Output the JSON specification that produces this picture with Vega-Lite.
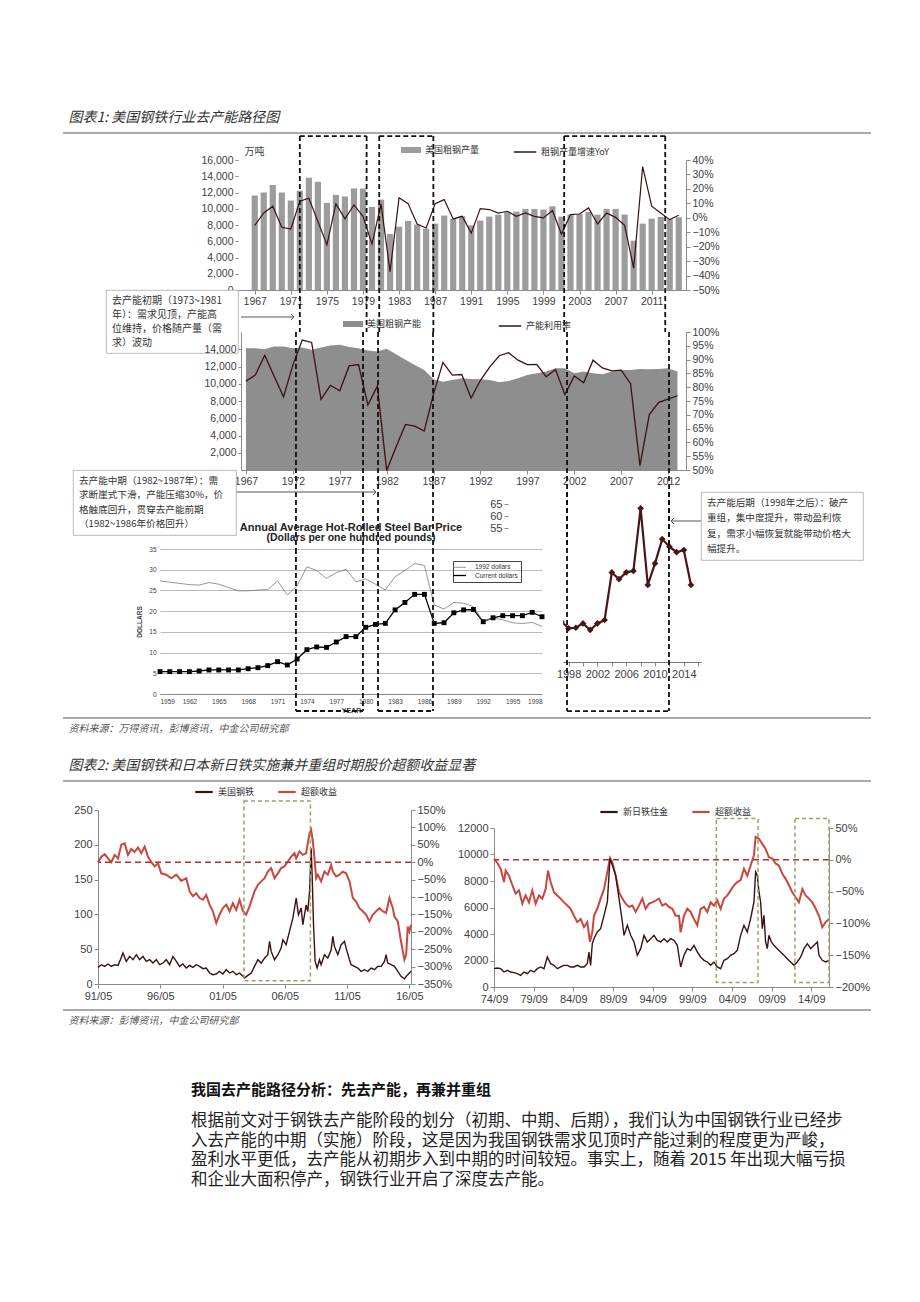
{
"$schema": "https://vega.github.io/schema/vega-lite/v6.json",
"padding": {"left": 62, "top": 0, "right": 0, "bottom": 0},
"autosize": {"type": "pad"},
"background": "white",
"bounds": "flush",
"spacing": 0,
"resolve": {"scale": {"fill": "independent", "stroke": "independent", "strokeWidth": "independent"}},
"config": {
 "view": {"stroke": null},
 "font": "Liberation Sans",
 "axis": {"labelFont": "Liberation Sans", "labelColor": "#404040", "domainColor": "#8a8a8a", "tickColor": "#8a8a8a", "grid": false, "labelFontSize": 10.5, "titleFont": "Noto Sans CJK SC", "titleFontWeight": "normal", "titleColor": "#404040", "tickSize": 3},
 "legend": {"labelFont": "Noto Sans CJK SC", "labelFontSize": 9, "labelColor": "#333"},
 "title": {"font": "Noto Sans CJK SC", "color": "#333"}
},
"datasets": {
 "prod": [
  {"year":1967,"prod":11630,"yoy":-0.052},{"year":1968,"prod":12000,"yoy":0.033},{"year":1969,"prod":12910,"yoy":0.080},{"year":1970,"prod":12000,"yoy":-0.066},{"year":1971,"prod":11010,"yoy":-0.078},{"year":1972,"prod":12210,"yoy":0.115},{"year":1973,"prod":13820,"yoy":0.135},{"year":1974,"prod":13320,"yoy":-0.025},{"year":1975,"prod":10720,"yoy":-0.187},{"year":1976,"prod":11710,"yoy":0.096},{"year":1977,"prod":11510,"yoy":-0.008},{"year":1978,"prod":12500,"yoy":0.089},{"year":1979,"prod":12500,"yoy":0.010},{"year":1980,"prod":10230,"yoy":-0.182},{"year":1981,"prod":11130,"yoy":0.096},{"year":1982,"prod":6890,"yoy":-0.373},{"year":1983,"prod":7790,"yoy":0.138},{"year":1984,"prod":8500,"yoy":0.098},{"year":1985,"prod":8040,"yoy":-0.043},{"year":1986,"prod":7550,"yoy":-0.071},{"year":1987,"prod":8170,"yoy":0.098},{"year":1988,"prod":9160,"yoy":0.126},{"year":1989,"prod":8740,"yoy":-0.008},{"year":1990,"prod":9070,"yoy":0.010},{"year":1991,"prod":7960,"yoy":-0.106},{"year":1992,"prod":8540,"yoy":0.064},{"year":1993,"prod":9030,"yoy":0.057},{"year":1994,"prod":9280,"yoy":0.033},{"year":1995,"prod":9570,"yoy":0.045},{"year":1996,"prod":9650,"yoy":0.010},{"year":1997,"prod":9980,"yoy":0.033},{"year":1998,"prod":9980,"yoy":0.010},{"year":1999,"prod":9900,"yoy":-0.001},{"year":2000,"prod":10310,"yoy":0.050},{"year":2001,"prod":9030,"yoy":-0.113},{"year":2002,"prod":9280,"yoy":0.022},{"year":2003,"prod":9360,"yoy":0.026},{"year":2004,"prod":9610,"yoy":0.068},{"year":2005,"prod":9280,"yoy":-0.043},{"year":2006,"prod":9980,"yoy":0.033},{"year":2007,"prod":9980,"yoy":0.003},{"year":2008,"prod":9280,"yoy":-0.052},{"year":2009,"prod":6060,"yoy":-0.349},{"year":2010,"prod":8170,"yoy":0.354},{"year":2011,"prod":8780,"yoy":0.080},{"year":2012,"prod":8990,"yoy":0.033},{"year":2013,"prod":8700,"yoy":-0.013},{"year":2014,"prod":8950,"yoy":0.017}
 ],
 "cap": [
  {"year":1967,"cap":14130,"util":0.822},{"year":1968,"cap":14130,"util":0.844},{"year":1969,"cap":14010,"util":0.916},{"year":1970,"cap":14330,"util":0.840},{"year":1971,"cap":14330,"util":0.765},{"year":1972,"cap":14130,"util":0.880},{"year":1973,"cap":14210,"util":0.971},{"year":1974,"cap":13940,"util":0.962},{"year":1975,"cap":14210,"util":0.756},{"year":1976,"cap":14440,"util":0.807},{"year":1977,"cap":14520,"util":0.787},{"year":1978,"cap":14250,"util":0.877},{"year":1979,"cap":14130,"util":0.882},{"year":1980,"cap":13860,"util":0.735},{"year":1981,"cap":13740,"util":0.804},{"year":1982,"cap":14050,"util":0.498},{"year":1983,"cap":13430,"util":0.583},{"year":1984,"cap":12770,"util":0.665},{"year":1985,"cap":12180,"util":0.659},{"year":1986,"cap":11600,"util":0.641},{"year":1987,"cap":10510,"util":0.777},{"year":1988,"cap":10240,"util":0.890},{"year":1989,"cap":10440,"util":0.844},{"year":1990,"cap":10630,"util":0.846},{"year":1991,"cap":10550,"util":0.761},{"year":1992,"cap":10510,"util":0.825},{"year":1993,"cap":10440,"util":0.874},{"year":1994,"cap":10170,"util":0.914},{"year":1995,"cap":10320,"util":0.925},{"year":1996,"cap":10630,"util":0.898},{"year":1997,"cap":11020,"util":0.882},{"year":1998,"cap":11220,"util":0.883},{"year":1999,"cap":11410,"util":0.838},{"year":2000,"cap":11800,"util":0.864},{"year":2001,"cap":11800,"util":0.773},{"year":2002,"cap":11220,"util":0.841},{"year":2003,"cap":11410,"util":0.816},{"year":2004,"cap":11220,"util":0.898},{"year":2005,"cap":11100,"util":0.870},{"year":2006,"cap":11410,"util":0.859},{"year":2007,"cap":11600,"util":0.862},{"year":2008,"cap":11600,"util":0.813},{"year":2009,"cap":11720,"util":0.516},{"year":2010,"cap":11680,"util":0.701},{"year":2011,"cap":11720,"util":0.745},{"year":2012,"cap":11800,"util":0.757},{"year":2013,"cap":11410,"util":0.769}
 ],
 "price": [
  {"year":1959,"series":"Current dollars","price":5.4},{"year":1960,"series":"Current dollars","price":5.4},{"year":1961,"series":"Current dollars","price":5.4},{"year":1962,"series":"Current dollars","price":5.4},{"year":1963,"series":"Current dollars","price":5.55},{"year":1964,"series":"Current dollars","price":5.8},{"year":1965,"series":"Current dollars","price":5.8},{"year":1966,"series":"Current dollars","price":5.8},{"year":1967,"series":"Current dollars","price":5.8},{"year":1968,"series":"Current dollars","price":6.1},{"year":1969,"series":"Current dollars","price":6.35},{"year":1970,"series":"Current dollars","price":6.85},{"year":1971,"series":"Current dollars","price":7.8},{"year":1972,"series":"Current dollars","price":7.0},{"year":1973,"series":"Current dollars","price":8.45},{"year":1974,"series":"Current dollars","price":10.7},{"year":1975,"series":"Current dollars","price":11.35},{"year":1976,"series":"Current dollars","price":11.25},{"year":1977,"series":"Current dollars","price":12.55},{"year":1978,"series":"Current dollars","price":13.85},{"year":1979,"series":"Current dollars","price":13.85},{"year":1980,"series":"Current dollars","price":16.1},{"year":1981,"series":"Current dollars","price":16.8},{"year":1982,"series":"Current dollars","price":17.05},{"year":1983,"series":"Current dollars","price":20.3},{"year":1984,"series":"Current dollars","price":22.1},{"year":1985,"series":"Current dollars","price":24.05},{"year":1986,"series":"Current dollars","price":24.05},{"year":1987,"series":"Current dollars","price":17.05},{"year":1988,"series":"Current dollars","price":17.2},{"year":1989,"series":"Current dollars","price":19.6},{"year":1990,"series":"Current dollars","price":20.3},{"year":1991,"series":"Current dollars","price":20.4},{"year":1992,"series":"Current dollars","price":17.45},{"year":1993,"series":"Current dollars","price":18.4},{"year":1994,"series":"Current dollars","price":18.9},{"year":1995,"series":"Current dollars","price":18.9},{"year":1996,"series":"Current dollars","price":18.9},{"year":1997,"series":"Current dollars","price":19.7},{"year":1998,"series":"Current dollars","price":18.65},
  {"year":1959,"series":"1992 dollars","price":27.3},{"year":1960,"series":"1992 dollars","price":27.0},{"year":1961,"series":"1992 dollars","price":26.7},{"year":1962,"series":"1992 dollars","price":26.4},{"year":1963,"series":"1992 dollars","price":26.3},{"year":1964,"series":"1992 dollars","price":26.9},{"year":1965,"series":"1992 dollars","price":26.5},{"year":1966,"series":"1992 dollars","price":25.7},{"year":1967,"series":"1992 dollars","price":24.9},{"year":1968,"series":"1992 dollars","price":24.9},{"year":1969,"series":"1992 dollars","price":25.1},{"year":1970,"series":"1992 dollars","price":25.2},{"year":1971,"series":"1992 dollars","price":27.3},{"year":1972,"series":"1992 dollars","price":23.9},{"year":1973,"series":"1992 dollars","price":26.1},{"year":1974,"series":"1992 dollars","price":30.7},{"year":1975,"series":"1992 dollars","price":29.8},{"year":1976,"series":"1992 dollars","price":27.9},{"year":1977,"series":"1992 dollars","price":29.3},{"year":1978,"series":"1992 dollars","price":30.1},{"year":1979,"series":"1992 dollars","price":27.1},{"year":1980,"series":"1992 dollars","price":27.8},{"year":1981,"series":"1992 dollars","price":26.5},{"year":1982,"series":"1992 dollars","price":25.1},{"year":1983,"series":"1992 dollars","price":28.3},{"year":1984,"series":"1992 dollars","price":29.8},{"year":1985,"series":"1992 dollars","price":31.5},{"year":1986,"series":"1992 dollars","price":31.0},{"year":1987,"series":"1992 dollars","price":21.5},{"year":1988,"series":"1992 dollars","price":20.5},{"year":1989,"series":"1992 dollars","price":22.1},{"year":1990,"series":"1992 dollars","price":21.9},{"year":1991,"series":"1992 dollars","price":21.1},{"year":1992,"series":"1992 dollars","price":17.45},{"year":1993,"series":"1992 dollars","price":18.3},{"year":1994,"series":"1992 dollars","price":17.9},{"year":1995,"series":"1992 dollars","price":17.2},{"year":1996,"series":"1992 dollars","price":17.0},{"year":1997,"series":"1992 dollars","price":17.3},{"year":1998,"series":"1992 dollars","price":16.3}
 ],
 "recent": [
  {"year":1997,"v":16.6},{"year":1998,"v":13.9},{"year":1999,"v":14.1},{"year":2000,"v":15.9},{"year":2001,"v":13.2},{"year":2002,"v":15.9},{"year":2003,"v":17.3},{"year":2004,"v":36.9},{"year":2005,"v":34.1},{"year":2006,"v":36.9},{"year":2007,"v":37.5},{"year":2008,"v":63.3},{"year":2009,"v":31.7},{"year":2010,"v":40.6},{"year":2011,"v":50.6},{"year":2012,"v":47.5},{"year":2013,"v":45.2},{"year":2014,"v":46.1},{"year":2015,"v":31.7}
 ],
 "usDark": [
  {"t":1991.37,"v":23.9},{"t":1991.64,"v":27.7},{"t":1991.91,"v":25.3},{"t":1992.17,"v":28.7},{"t":1992.44,"v":25.3},{"t":1992.71,"v":27.7},{"t":1992.98,"v":26.8},{"t":1993.24,"v":38.2},{"t":1993.38,"v":44.5},{"t":1993.64,"v":32.5},{"t":1993.91,"v":39.7},{"t":1994.18,"v":34.9},{"t":1994.45,"v":42.1},{"t":1994.71,"v":34.9},{"t":1994.98,"v":39.7},{"t":1995.25,"v":32.5},{"t":1995.52,"v":34.9},{"t":1995.78,"v":30.1},{"t":1996.05,"v":34.9},{"t":1996.32,"v":27.7},{"t":1996.59,"v":30.1},{"t":1996.85,"v":34.9},{"t":1997.12,"v":27.7},{"t":1997.39,"v":39.7},{"t":1997.66,"v":32.5},{"t":1997.92,"v":25.3},{"t":1998.19,"v":28.7},{"t":1998.46,"v":22.9},{"t":1998.73,"v":26.8},{"t":1998.99,"v":23.9},{"t":1999.26,"v":27.7},{"t":1999.53,"v":25.3},{"t":1999.80,"v":22.0},{"t":2000.06,"v":22.9},{"t":2000.33,"v":15.8},{"t":2000.60,"v":13.4},{"t":2000.87,"v":14.3},{"t":2001.13,"v":18.2},{"t":2001.40,"v":14.3},{"t":2001.67,"v":20.6},{"t":2001.94,"v":15.8},{"t":2002.20,"v":18.2},{"t":2002.47,"v":13.4},{"t":2002.74,"v":15.8},{"t":2003.01,"v":11.0},{"t":2003.14,"v":8.6},{"t":2003.41,"v":12.4},{"t":2003.68,"v":15.8},{"t":2003.94,"v":25.3},{"t":2004.21,"v":34.9},{"t":2004.48,"v":30.1},{"t":2004.75,"v":37.3},{"t":2005.01,"v":42.1},{"t":2005.15,"v":61.2},{"t":2005.28,"v":46.8},{"t":2005.55,"v":34.9},{"t":2005.82,"v":42.1},{"t":2006.08,"v":51.6},{"t":2006.22,"v":63.6},{"t":2006.48,"v":56.4},{"t":2006.75,"v":75.5},{"t":2007.02,"v":94.6},{"t":2007.29,"v":123.3},{"t":2007.47,"v":99.4},{"t":2007.69,"v":109.0},{"t":2007.82,"v":85.1},{"t":2008.09,"v":113.8},{"t":2008.22,"v":104.2},{"t":2008.36,"v":132.9},{"t":2008.49,"v":195.0},{"t":2008.57,"v":156.8},{"t":2008.68,"v":85.1},{"t":2008.81,"v":32.5},{"t":2008.97,"v":22.9},{"t":2009.16,"v":34.9},{"t":2009.29,"v":27.7},{"t":2009.56,"v":42.1},{"t":2009.83,"v":37.3},{"t":2010.10,"v":49.2},{"t":2010.23,"v":68.4},{"t":2010.36,"v":54.0},{"t":2010.63,"v":42.1},{"t":2010.90,"v":56.4},{"t":2011.17,"v":61.2},{"t":2011.30,"v":51.6},{"t":2011.57,"v":34.9},{"t":2011.70,"v":27.7},{"t":2011.97,"v":25.3},{"t":2012.24,"v":22.9},{"t":2012.50,"v":18.2},{"t":2012.77,"v":20.6},{"t":2013.04,"v":18.2},{"t":2013.31,"v":22.9},{"t":2013.57,"v":20.6},{"t":2013.84,"v":25.3},{"t":2014.11,"v":25.3},{"t":2014.38,"v":32.5},{"t":2014.51,"v":42.1},{"t":2014.64,"v":30.1},{"t":2014.91,"v":27.7},{"t":2015.18,"v":25.3},{"t":2015.45,"v":18.2},{"t":2015.71,"v":11.0},{"t":2015.98,"v":7.6},{"t":2016.25,"v":13.4},{"t":2016.51,"v":18.2}
 ],
 "usRed": [
  {"t":1991.37,"r":0.00},{"t":1991.64,"r":0.16},{"t":1991.91,"r":0.23},{"t":1992.17,"r":0.11},{"t":1992.44,"r":0.00},{"t":1992.71,"r":0.21},{"t":1992.98,"r":0.11},{"t":1993.24,"r":0.50},{"t":1993.51,"r":0.54},{"t":1993.78,"r":0.21},{"t":1994.05,"r":0.38},{"t":1994.31,"r":0.29},{"t":1994.58,"r":0.42},{"t":1994.85,"r":0.26},{"t":1995.12,"r":0.45},{"t":1995.38,"r":0.16},{"t":1995.65,"r":0.00},{"t":1995.92,"r":-0.12},{"t":1996.19,"r":-0.03},{"t":1996.45,"r":-0.32},{"t":1996.85,"r":-0.36},{"t":1997.26,"r":-0.46},{"t":1997.66,"r":-0.36},{"t":1998.06,"r":-0.54},{"t":1998.46,"r":-0.46},{"t":1998.73,"r":-0.84},{"t":1998.99,"r":-0.98},{"t":1999.26,"r":-0.89},{"t":1999.53,"r":-1.03},{"t":1999.80,"r":-1.08},{"t":2000.06,"r":-0.94},{"t":2000.33,"r":-1.22},{"t":2000.60,"r":-1.41},{"t":2000.87,"r":-1.75},{"t":2001.13,"r":-1.51},{"t":2001.40,"r":-1.32},{"t":2001.67,"r":-1.22},{"t":2001.94,"r":-1.41},{"t":2002.20,"r":-1.18},{"t":2002.47,"r":-1.37},{"t":2002.74,"r":-1.08},{"t":2003.01,"r":-1.41},{"t":2003.27,"r":-1.51},{"t":2003.54,"r":-1.27},{"t":2003.94,"r":-0.84},{"t":2004.21,"r":-0.65},{"t":2004.48,"r":-0.55},{"t":2004.75,"r":-0.46},{"t":2005.01,"r":-0.27},{"t":2005.28,"r":-0.17},{"t":2005.55,"r":-0.46},{"t":2005.82,"r":-0.32},{"t":2006.08,"r":-0.17},{"t":2006.35,"r":-0.12},{"t":2006.62,"r":0.02},{"t":2006.89,"r":0.16},{"t":2007.15,"r":0.26},{"t":2007.29,"r":0.11},{"t":2007.55,"r":0.31},{"t":2007.82,"r":0.21},{"t":2008.09,"r":0.26},{"t":2008.36,"r":0.83},{"t":2008.49,"r":0.93},{"t":2008.63,"r":0.59},{"t":2008.76,"r":0.11},{"t":2008.89,"r":-0.46},{"t":2009.03,"r":-0.36},{"t":2009.29,"r":-0.55},{"t":2009.56,"r":-0.27},{"t":2009.83,"r":-0.36},{"t":2010.10,"r":-0.08},{"t":2010.23,"r":-0.27},{"t":2010.50,"r":-0.41},{"t":2010.77,"r":-0.36},{"t":2011.03,"r":-0.27},{"t":2011.30,"r":-0.32},{"t":2011.57,"r":-0.55},{"t":2011.84,"r":-1.03},{"t":2012.10,"r":-1.13},{"t":2012.37,"r":-1.32},{"t":2012.64,"r":-1.41},{"t":2012.91,"r":-1.51},{"t":2013.17,"r":-1.70},{"t":2013.44,"r":-1.51},{"t":2013.71,"r":-1.41},{"t":2013.98,"r":-1.32},{"t":2014.24,"r":-1.41},{"t":2014.51,"r":-1.46},{"t":2014.78,"r":-1.03},{"t":2015.05,"r":-1.32},{"t":2015.18,"r":-1.56},{"t":2015.45,"r":-1.70},{"t":2015.71,"r":-2.28},{"t":2015.98,"r":-2.80},{"t":2016.12,"r":-2.66},{"t":2016.25,"r":-1.85},{"t":2016.38,"r":-1.99},{"t":2016.51,"r":-1.80}
 ],
 "jpDark": [
  {"t":1974.67,"v":1384},{"t":1975.09,"v":1434},{"t":1975.51,"v":1384},{"t":1975.93,"v":1132},{"t":1976.35,"v":1258},{"t":1976.77,"v":1132},{"t":1977.19,"v":1082},{"t":1977.61,"v":1006},{"t":1978.03,"v":881},{"t":1978.45,"v":1132},{"t":1978.87,"v":1006},{"t":1979.29,"v":1258},{"t":1979.71,"v":1132},{"t":1980.13,"v":1384},{"t":1980.55,"v":1510},{"t":1980.97,"v":1384},{"t":1981.39,"v":2264},{"t":1981.81,"v":1761},{"t":1982.23,"v":1635},{"t":1982.65,"v":1384},{"t":1983.07,"v":1510},{"t":1983.49,"v":1635},{"t":1983.91,"v":1635},{"t":1984.33,"v":1510},{"t":1984.75,"v":1510},{"t":1985.17,"v":1635},{"t":1985.59,"v":1510},{"t":1986.01,"v":1510},{"t":1986.43,"v":1761},{"t":1986.64,"v":2642},{"t":1986.85,"v":1635},{"t":1987.06,"v":3271},{"t":1987.27,"v":3648},{"t":1987.69,"v":4151},{"t":1988.11,"v":4403},{"t":1988.54,"v":5409},{"t":1988.96,"v":6416},{"t":1989.29,"v":9687},{"t":1989.59,"v":9183},{"t":1990.01,"v":8429},{"t":1990.43,"v":6667},{"t":1990.85,"v":4906},{"t":1991.06,"v":3900},{"t":1991.48,"v":4655},{"t":1991.90,"v":3900},{"t":1992.32,"v":3397},{"t":1992.74,"v":2390},{"t":1993.16,"v":2893},{"t":1993.58,"v":3900},{"t":1994.00,"v":3397},{"t":1994.42,"v":3648},{"t":1994.84,"v":3900},{"t":1995.26,"v":3522},{"t":1995.68,"v":3397},{"t":1996.10,"v":3648},{"t":1996.52,"v":3397},{"t":1996.94,"v":3648},{"t":1997.36,"v":3522},{"t":1997.78,"v":3145},{"t":1998.20,"v":1510},{"t":1998.62,"v":2390},{"t":1999.04,"v":2893},{"t":1999.46,"v":2768},{"t":1999.88,"v":3145},{"t":2000.30,"v":2642},{"t":2000.72,"v":2264},{"t":2001.14,"v":2013},{"t":2001.56,"v":1887},{"t":2001.98,"v":1635},{"t":2002.40,"v":1887},{"t":2002.82,"v":1510},{"t":2003.24,"v":1384},{"t":2003.66,"v":2013},{"t":2004.08,"v":2139},{"t":2004.50,"v":2390},{"t":2004.92,"v":2516},{"t":2005.34,"v":2768},{"t":2005.76,"v":3900},{"t":2006.18,"v":4655},{"t":2006.60,"v":4151},{"t":2007.02,"v":5158},{"t":2007.44,"v":6416},{"t":2007.65,"v":8680},{"t":2007.86,"v":8429},{"t":2008.07,"v":7171},{"t":2008.28,"v":6416},{"t":2008.49,"v":4403},{"t":2008.70,"v":5409},{"t":2008.91,"v":3397},{"t":2009.12,"v":2893},{"t":2009.33,"v":3900},{"t":2009.63,"v":3397},{"t":2009.96,"v":3145},{"t":2010.38,"v":2893},{"t":2010.80,"v":2642},{"t":2011.22,"v":2390},{"t":2011.64,"v":2139},{"t":2012.06,"v":1887},{"t":2012.48,"v":1635},{"t":2012.90,"v":1887},{"t":2013.33,"v":2264},{"t":2013.75,"v":2893},{"t":2014.17,"v":3271},{"t":2014.59,"v":2893},{"t":2015.01,"v":3145},{"t":2015.43,"v":3397},{"t":2015.64,"v":2390},{"t":2016.06,"v":2013},{"t":2016.48,"v":1887},{"t":2016.90,"v":2013}
 ],
 "jpRed": [
  {"t":1974.67,"r":0.02},{"t":1975.09,"r":-0.05},{"t":1975.51,"r":-0.14},{"t":1975.93,"r":-0.35},{"t":1976.14,"r":-0.17},{"t":1976.56,"r":-0.25},{"t":1976.98,"r":-0.40},{"t":1977.40,"r":-0.53},{"t":1977.82,"r":-0.48},{"t":1978.24,"r":-0.69},{"t":1978.66,"r":-0.56},{"t":1979.08,"r":-0.67},{"t":1979.50,"r":-0.48},{"t":1979.92,"r":-0.69},{"t":1980.34,"r":-0.56},{"t":1980.76,"r":-0.61},{"t":1981.18,"r":-0.46},{"t":1981.48,"r":-0.17},{"t":1981.81,"r":-0.35},{"t":1982.23,"r":-0.51},{"t":1982.65,"r":-0.56},{"t":1983.07,"r":-0.61},{"t":1983.49,"r":-0.67},{"t":1983.91,"r":-0.72},{"t":1984.33,"r":-0.77},{"t":1984.75,"r":-0.88},{"t":1985.17,"r":-0.98},{"t":1985.59,"r":-0.93},{"t":1986.01,"r":-1.06},{"t":1986.43,"r":-0.98},{"t":1986.77,"r":-1.29},{"t":1987.06,"r":-1.14},{"t":1987.27,"r":-0.88},{"t":1987.69,"r":-0.77},{"t":1988.11,"r":-0.61},{"t":1988.54,"r":-0.46},{"t":1988.96,"r":-0.19},{"t":1989.29,"r":0.03},{"t":1989.59,"r":-0.04},{"t":1990.01,"r":-0.25},{"t":1990.43,"r":-0.51},{"t":1990.85,"r":-0.61},{"t":1991.27,"r":-0.69},{"t":1991.69,"r":-0.74},{"t":1992.11,"r":-0.72},{"t":1992.53,"r":-0.82},{"t":1992.95,"r":-0.72},{"t":1993.37,"r":-0.61},{"t":1993.79,"r":-0.77},{"t":1994.21,"r":-0.69},{"t":1994.63,"r":-0.67},{"t":1995.05,"r":-0.64},{"t":1995.47,"r":-0.61},{"t":1995.89,"r":-0.72},{"t":1996.31,"r":-0.69},{"t":1996.73,"r":-0.74},{"t":1997.15,"r":-0.77},{"t":1997.57,"r":-0.88},{"t":1997.99,"r":-0.88},{"t":1998.20,"r":-1.14},{"t":1998.62,"r":-0.88},{"t":1999.04,"r":-0.77},{"t":1999.46,"r":-0.82},{"t":1999.88,"r":-0.93},{"t":2000.30,"r":-1.03},{"t":2000.72,"r":-0.77},{"t":2001.14,"r":-0.74},{"t":2001.56,"r":-0.82},{"t":2001.98,"r":-0.67},{"t":2002.40,"r":-0.72},{"t":2002.82,"r":-0.64},{"t":2003.24,"r":-0.77},{"t":2003.66,"r":-0.61},{"t":2004.08,"r":-0.56},{"t":2004.50,"r":-0.48},{"t":2004.92,"r":-0.40},{"t":2005.34,"r":-0.35},{"t":2005.76,"r":-0.32},{"t":2006.18,"r":-0.14},{"t":2006.60,"r":-0.25},{"t":2007.02,"r":-0.09},{"t":2007.44,"r":0.07},{"t":2007.65,"r":0.36},{"t":2008.07,"r":0.33},{"t":2008.49,"r":0.25},{"t":2008.91,"r":0.17},{"t":2009.33,"r":0.04},{"t":2009.75,"r":0.02},{"t":2010.17,"r":-0.06},{"t":2010.59,"r":-0.09},{"t":2011.01,"r":-0.22},{"t":2011.43,"r":-0.30},{"t":2011.85,"r":-0.40},{"t":2012.27,"r":-0.51},{"t":2012.69,"r":-0.59},{"t":2013.11,"r":-0.67},{"t":2013.54,"r":-0.46},{"t":2013.96,"r":-0.56},{"t":2014.38,"r":-0.61},{"t":2014.80,"r":-0.67},{"t":2015.22,"r":-0.77},{"t":2015.64,"r":-0.88},{"t":2016.06,"r":-1.06},{"t":2016.48,"r":-0.98},{"t":2016.90,"r":-0.93}
 ]
},
"vconcat": [
 {"width":808,"height":128,"data":{"values":[]},"mark":"point"},
 {"width": 808, "height": 5, "data": {"values": [{}]},
  "mark": {"type": "rule", "color": "#555", "strokeWidth": 1.2},
  "encoding": {"y": {"value": "height"}},
  "title": {"text": "图表1: 美国钢铁行业去产能路径图", "anchor": "start", "fontSize": 14, "fontStyle": "italic", "fontWeight": "normal", "offset": 3, "dx": 6, "color": "#333"}},
 {"width":808,"height":27,"data":{"values":[]},"mark":"point"},
 {"hconcat": [
   {"width":175,"height":1,"data":{"values":[]},"mark":"point"},
   {"width": 448, "height": 130,
    "layer": [
     {"data": {"name": "prod"}, "mark": {"type": "bar", "size": 6.2},
      "encoding": {
       "x": {"field": "year", "type": "quantitative", "scale": {"domain": [1965.7, 2014.25], "nice": false, "zero": false}, "axis": {"values": [1967,1971,1975,1979,1983,1987,1991,1995,1999,2003,2007,2011], "tickCount": 100, "format": "d", "title": null, "tickSize": 4, "labelFlush": false, "labelOverlap": false}},
       "y": {"field": "prod", "type": "quantitative", "scale": {"domain": [0, 16000], "nice": false}, "axis": {"values": [0,2000,4000,6000,8000,10000,12000,14000,16000], "tickCount": 100, "format": ",d", "title": "万吨", "titleAngle": 0, "titleX": 16, "titleY": -4, "titleAlign": "center", "titleBaseline": "bottom", "titleFontSize": 10, "domain": false}},
       "fill": {"datum": "美国粗钢产量", "type": "nominal", "scale": {"range": ["#9c9c9c"]}, "legend": {"title": null, "orient": "none", "legendX": 163, "legendY": -20, "symbolType": "M-1,-0.3H1V0.3H-1Z", "symbolSize": 400, "symbolStrokeWidth": 0}}
      }},
     {"data": {"name": "prod"}, "mark": {"type": "line", "strokeWidth": 1.2},
      "encoding": {
       "x": {"field": "year", "type": "quantitative", "scale": {"domain": [1965.7, 2014.25], "nice": false, "zero": false}},
       "y": {"field": "yoy", "type": "quantitative", "scale": {"domain": [-0.5, 0.4], "nice": false, "zero": false}, "axis": {"orient": "right", "values": [-0.5,-0.4,-0.3,-0.2,-0.1,0,0.1,0.2,0.3,0.4], "tickCount": 100, "format": ".0%", "title": null, "tickSize": 4}},
       "stroke": {"datum": "粗钢产量增速YoY", "type": "nominal", "scale": {"range": ["#3a1212"]}, "legend": {"title": null, "orient": "none", "legendX": 275, "legendY": -20, "symbolType": "stroke", "symbolSize": 500, "symbolStrokeWidth": 1.5}}
      }},
     {"data": {"values": [{"edge": 1972.0}, {"edge": 1979.4}, {"edge": 1980.8}, {"edge": 1986.8}, {"edge": 2001.3}, {"edge": 2012.5}]},
      "mark": {"type": "rule", "color": "#111", "strokeWidth": 1.8, "strokeDash": [5, 3]},
      "encoding": {
       "x": {"field": "edge", "type": "quantitative", "scale": {"domain": [1965.7, 2014.25], "nice": false, "zero": false}},
       "y": {"datum": 18950, "type": "quantitative", "scale": {"domain": [0, 16000], "nice": false}, "axis": null},
       "y2": {"datum": -5170}
      }},
     {"data": {"values": [{"start": 1972.0, "end": 1979.4}, {"start": 1980.8, "end": 1986.8}, {"start": 2001.3, "end": 2012.5}]},
      "mark": {"type": "rule", "color": "#111", "strokeWidth": 1.8, "strokeDash": [5, 3]},
      "encoding": {
       "x": {"field": "start", "type": "quantitative", "scale": {"domain": [1965.7, 2014.25], "nice": false, "zero": false}},
       "x2": {"field": "end"},
       "y": {"datum": 18950, "type": "quantitative", "scale": {"domain": [0, 16000], "nice": false}, "axis": null}
      }}
    ],
    "resolve": {"scale": {"y": "independent"}}}
  ], "spacing": 0, "bounds": "flush", "resolve": {"scale": {"fill": "independent", "stroke": "independent"}}},
 {"width":808,"height":130,"data":{"values":[]},"mark":"point"},
 {"hconcat": [
   {"width":43,"height":1,"data":{"values":[]},"mark":"point"},
   {"width": 132, "height": 63, "view": {"stroke": "#a8a8a8", "strokeWidth": 0.8, "fill": "white"},
    "data": {"values": [{"i": 1, "t": "去产能初期（1973~1981"}, {"i": 2, "t": "年）：需求见顶，产能高"}, {"i": 3, "t": "位维持，价格随产量（需"}, {"i": 4, "t": "求）波动"}]},
    "mark": {"type": "text", "align": "left", "baseline": "middle", "font": "Noto Sans CJK SC", "fontSize": 10, "color": "#333", "dx": 6},
    "encoding": {"x": {"datum": 0, "type": "quantitative", "scale": {"domain": [0, 1]}, "axis": null}, "y": {"field": "i", "type": "ordinal", "axis": null, "scale": {"padding": 0.75}}, "text": {"field": "t"}}}
  ], "spacing": 0, "bounds": "flush"},
 {"width":808,"height":42,"data":{"values":[]},"mark":"point"},
 {"hconcat": [
   {"width":178,"height":1,"data":{"values":[]},"mark":"point"},
   {"width": 445, "height": 138,
    "layer": [
     {"data": {"name": "cap"}, "mark": {"type": "area"},
      "encoding": {
       "x": {"field": "year", "type": "quantitative", "scale": {"domain": [1966.47, 2013.91], "nice": false, "zero": false}, "axis": {"values": [1967,1972,1977,1982,1987,1992,1997,2002,2007,2012], "tickCount": 100, "format": "d", "title": null, "tickSize": 4, "labelFlush": false, "labelOverlap": false}},
       "y": {"field": "cap", "type": "quantitative", "scale": {"domain": [0, 16000], "nice": false}, "axis": {"values": [2000,4000,6000,8000,10000,12000,14000], "tickCount": 100, "format": ",d", "title": null}},
       "fill": {"datum": "美国粗钢产能", "type": "nominal", "scale": {"range": ["#8e8e8e"]}, "legend": {"title": null, "orient": "none", "legendX": 102, "legendY": -18, "symbolType": "M-1,-0.3H1V0.3H-1Z", "symbolSize": 400, "symbolStrokeWidth": 0}}
      }},
     {"data": {"name": "cap"}, "mark": {"type": "line", "strokeWidth": 1.3},
      "encoding": {
       "x": {"field": "year", "type": "quantitative", "scale": {"domain": [1966.47, 2013.91], "nice": false, "zero": false}},
       "y": {"field": "util", "type": "quantitative", "scale": {"domain": [0.5, 1.0], "nice": false, "zero": false}, "axis": {"orient": "right", "values": [0.5,0.55,0.6,0.65,0.7,0.75,0.8,0.85,0.9,0.95,1.0], "tickCount": 100, "format": ".0%", "title": null, "tickSize": 4}},
       "stroke": {"datum": "产能利用率", "type": "nominal", "scale": {"range": ["#3a1212"]}, "legend": {"title": null, "orient": "none", "legendX": 257, "legendY": -18, "symbolType": "stroke", "symbolSize": 500, "symbolStrokeWidth": 1.5}}
      }},
     {"data": {"values": [{"edge": 1972.33}, {"edge": 1979.48}, {"edge": 1981.08}, {"edge": 1986.94}, {"edge": 2001.23}, {"edge": 2012.10}]},
      "mark": {"type": "rule", "color": "#111", "strokeWidth": 1.8, "strokeDash": [5, 3]},
      "encoding": {
       "x": {"field": "edge", "type": "quantitative", "scale": {"domain": [1966.47, 2013.91], "nice": false, "zero": false}},
       "y": {"datum": 16000, "type": "quantitative", "scale": {"domain": [0, 16000], "nice": false}, "axis": null},
       "y2": {"datum": -9160}
      }},
     {"data": {"values": [{"from": 1966.47, "to": 1972.12, "level": 17740}, {"from": 1965.94, "to": 1980.86, "level": -2550}]},
      "mark": {"type": "rule", "color": "#555", "strokeWidth": 1},
      "encoding": {
       "x": {"field": "from", "type": "quantitative", "scale": {"domain": [1966.47, 2013.91], "nice": false, "zero": false}},
       "x2": {"field": "to"},
       "y": {"field": "level", "type": "quantitative", "scale": {"domain": [0, 16000], "nice": false}, "axis": null}
      }},
     {"data": {"values": [{"to": 1972.12, "level": 17740}, {"to": 1980.86, "level": -2550}]},
      "mark": {"type": "point", "shape": "M-1,-1L0,0L-1,1", "filled": false, "stroke": "#555", "strokeWidth": 1, "size": 40, "opacity": 1},
      "encoding": {
       "x": {"field": "to", "type": "quantitative", "scale": {"domain": [1966.47, 2013.91], "nice": false, "zero": false}},
       "y": {"field": "level", "type": "quantitative", "scale": {"domain": [0, 16000], "nice": false}, "axis": null}
      }}
    ],
    "resolve": {"scale": {"y": "independent"}}}
  ], "spacing": 0, "bounds": "flush", "resolve": {"scale": {"fill": "independent", "stroke": "independent"}}},
 {"width":808,"height":138,"data":{"values":[]},"mark":"point"},
 {"hconcat": [
   {"width":10,"height":1,"data":{"values":[]},"mark":"point"},
   {"width": 163, "height": 65, "view": {"stroke": "#a8a8a8", "strokeWidth": 0.8, "fill": "white"},
    "data": {"values": [{"i": 1, "t": "去产能中期（1982~1987年）：需"}, {"i": 2, "t": "求断崖式下滑，产能压缩30%，价"}, {"i": 3, "t": "格触底回升，贯穿去产能前期"}, {"i": 4, "t": "（1982~1986年价格回升）"}]},
    "mark": {"type": "text", "align": "left", "baseline": "middle", "font": "Noto Sans CJK SC", "fontSize": 9.6, "color": "#333", "dx": 6},
    "encoding": {"x": {"datum": 0, "type": "quantitative", "scale": {"domain": [0, 1]}, "axis": null}, "y": {"field": "i", "type": "ordinal", "axis": null, "scale": {"padding": 0.75}}, "text": {"field": "t"}}}
  ], "spacing": 0, "bounds": "flush"},
 {"width":808,"height":22,"data":{"values":[]},"mark":"point"},
 {"hconcat": [
   {"width":500,"height":1,"data":{"values":[]},"mark":"point"},
   {"width": 138, "height": 170,
    "layer": [
     {"data": {"name": "recent"},
      "mark": {"type": "line", "color": "#4a1515", "strokeWidth": 2.2, "clip": true, "point": {"shape": "diamond", "filled": true, "size": 45, "color": "#4a1515"}},
      "encoding": {
       "x": {"field": "year", "type": "quantitative", "scale": {"domain": [1997.22, 2016.39], "nice": false, "zero": false}, "axis": {"values": [1998,2000,2002,2004,2006,2008,2010,2012,2014,2016], "tickCount": 100, "format": "d", "labelExpr": "datum.value % 4 == 2 ? datum.label : ''", "labelOverlap": false, "title": null, "labelFontSize": 11, "tickSize": 4, "domainColor": "#777", "labelFlush": false}},
       "y": {"field": "v", "type": "quantitative", "scale": {"domain": [0, 70], "nice": false}, "axis": {"values": [55, 60, 65], "tickCount": 100, "format": "d", "offset": 55, "domain": false, "title": null, "labelFontSize": 11, "tickSize": 4}}
      }},
     {"data": {"values": [{"edge": 1997.78}, {"edge": 2011.94}]},
      "mark": {"type": "rule", "color": "#111", "strokeWidth": 1.8, "strokeDash": [5, 3]},
      "encoding": {
       "x": {"field": "edge", "type": "quantitative", "scale": {"domain": [1997.22, 2016.39], "nice": false, "zero": false}},
       "y": {"datum": 70, "type": "quantitative", "scale": {"domain": [0, 70], "nice": false}},
       "y2": {"datum": -20.2}
      }},
     {"data": {"values": [{"start": 1997.78, "end": 2011.94}]},
      "mark": {"type": "rule", "color": "#111", "strokeWidth": 1.8, "strokeDash": [5, 3]},
      "encoding": {
       "x": {"field": "start", "type": "quantitative", "scale": {"domain": [1997.22, 2016.39], "nice": false, "zero": false}},
       "x2": {"field": "end"},
       "y": {"datum": -20.2, "type": "quantitative", "scale": {"domain": [0, 70], "nice": false}}
      }},
     {"data": {"values": [{"from": 2016.39, "to": 2012.22}]},
      "mark": {"type": "rule", "color": "#555", "strokeWidth": 1},
      "encoding": {
       "x": {"field": "from", "type": "quantitative", "scale": {"domain": [1997.22, 2016.39], "nice": false, "zero": false}},
       "x2": {"field": "to"},
       "y": {"datum": 58.06, "type": "quantitative", "scale": {"domain": [0, 70], "nice": false}}
      }},
     {"data": {"values": [{"to": 2012.22}]},
      "mark": {"type": "point", "shape": "M1,-1L0,0L1,1", "filled": false, "stroke": "#555", "strokeWidth": 1, "size": 40, "opacity": 1},
      "encoding": {
       "x": {"field": "to", "type": "quantitative", "scale": {"domain": [1997.22, 2016.39], "nice": false, "zero": false}},
       "y": {"datum": 58.06, "type": "quantitative", "scale": {"domain": [0, 70], "nice": false}}
      }}
    ]},
   {"width": 162, "height": 68, "view": {"stroke": "#a8a8a8", "strokeWidth": 0.8, "fill": "white"},
    "data": {"values": [{"i": 1, "t": "去产能后期（1998年之后）：破产"}, {"i": 2, "t": "重组，集中度提升，带动盈利恢"}, {"i": 3, "t": "复，需求小幅恢复就能带动价格大"}, {"i": 4, "t": "幅提升。"}]},
    "mark": {"type": "text", "align": "left", "baseline": "middle", "font": "Noto Sans CJK SC", "fontSize": 9.6, "color": "#333", "dx": 6},
    "encoding": {"x": {"datum": 0, "type": "quantitative", "scale": {"domain": [0, 1]}, "axis": null}, "y": {"field": "i", "type": "ordinal", "axis": null, "scale": {"padding": 0.75}}, "text": {"field": "t"}}}
  ], "spacing": 0, "bounds": "flush"},
 {"width":808,"height":57,"data":{"values":[]},"mark":"point"},
 {"hconcat": [
   {"width":97,"height":1,"data":{"values":[]},"mark":"point"},
   {"width": 382, "height": 145,
    "title": {"text": "Annual Average Hot-Rolled Steel Bar Price", "subtitle": "(Dollars per one hundred pounds)", "font": "Liberation Sans", "subtitleFont": "Liberation Sans", "fontSize": 11, "subtitleFontSize": 10.5, "fontWeight": "bold", "subtitleFontWeight": "bold", "color": "#222", "subtitleColor": "#222", "anchor": "middle", "offset": 3, "subtitlePadding": 0},
    "layer": [
     {"data": {"name": "price"}, "mark": {"type": "line"},
      "encoding": {
       "x": {"field": "year", "type": "quantitative", "scale": {"domain": [1959, 1998], "nice": false, "zero": false}, "axis": {"values": [1959,1962,1965,1968,1971,1974,1977,1980,1983,1986,1989,1992,1995,1998], "tickCount": 100, "format": "d", "labelOverlap": false, "title": "YEAR", "titleFont": "Liberation Sans", "titleFontSize": 7, "titleFontWeight": "bold", "titlePadding": 2, "labelFontSize": 6.5, "ticks": false, "labelPadding": 4, "domainColor": "#888"}},
       "y": {"field": "price", "type": "quantitative", "scale": {"domain": [0, 35], "nice": false}, "axis": {"values": [0,5,10,15,20,25,30,35], "tickCount": 100, "format": "d", "labelOverlap": false, "grid": true, "gridColor": "#a8a8a8", "gridWidth": 0.8, "domain": false, "ticks": false, "labelFontSize": 6.5, "labelPadding": 4, "title": "DOLLARS", "titleFont": "Liberation Sans", "titleFontSize": 6.5, "titleFontWeight": "bold", "titlePadding": 6}},
       "stroke": {"field": "series", "type": "nominal", "scale": {"domain": ["1992 dollars", "Current dollars"], "range": ["#7a7a7a", "#000000"]}, "legend": {"title": null, "orient": "none", "legendX": 293, "legendY": 12, "direction": "vertical", "strokeColor": "#444", "padding": 3, "labelFont": "Liberation Sans", "labelFontSize": 6.5, "labelOffset": 12, "symbolType": "M-2.6,0H2.6", "symbolSize": 25, "symbolStrokeWidth": 1, "rowPadding": 1}},
       "strokeWidth": {"field": "series", "type": "nominal", "scale": {"domain": ["1992 dollars", "Current dollars"], "range": [0.8, 1.3]}, "legend": null}
      }},
     {"data": {"name": "price"}, "transform": [{"filter": "datum.series == 'Current dollars'"}],
      "mark": {"type": "square", "size": 24, "color": "#000", "opacity": 1},
      "encoding": {
       "x": {"field": "year", "type": "quantitative", "scale": {"domain": [1959, 1998], "nice": false, "zero": false}},
       "y": {"field": "price", "type": "quantitative", "scale": {"domain": [0, 35], "nice": false}}
      }},
     {"data": {"values": [{"edge": 1972.88}, {"edge": 1979.72}, {"edge": 1981.26}, {"edge": 1986.87}]},
      "mark": {"type": "rule", "color": "#111", "strokeWidth": 1.8, "strokeDash": [5, 3]},
      "encoding": {
       "x": {"field": "edge", "type": "quantitative", "scale": {"domain": [1959, 1998], "nice": false, "zero": false}},
       "y": {"datum": 35, "type": "quantitative", "scale": {"domain": [0, 35], "nice": false}},
       "y2": {"datum": -4.1}
      }},
     {"data": {"values": [{"start": 1972.88, "end": 1979.72}, {"start": 1981.26, "end": 1986.87}]},
      "mark": {"type": "rule", "color": "#111", "strokeWidth": 1.8, "strokeDash": [5, 3]},
      "encoding": {
       "x": {"field": "start", "type": "quantitative", "scale": {"domain": [1959, 1998], "nice": false, "zero": false}},
       "x2": {"field": "end"},
       "y": {"datum": -4.1, "type": "quantitative", "scale": {"domain": [0, 35], "nice": false}}
      }}
    ]}
  ], "spacing": 0, "bounds": "flush", "resolve": {"scale": {"stroke": "independent", "strokeWidth": "independent"}}},
 {"width":808,"height":169,"data":{"values":[]},"mark":"point"},
 {"width": 808, "height": 4, "data": {"values": [{}]},
  "mark": {"type": "rule", "color": "#555", "strokeWidth": 1.2},
  "encoding": {"y": {"value": 0}},
  "title": {"text": "资料来源：万得资讯，彭博资讯，中金公司研究部", "orient": "bottom", "anchor": "start", "fontSize": 10, "fontStyle": "italic", "fontWeight": "normal", "color": "#555", "offset": 2, "dx": 6}},
 {"width":808,"height":54,"data":{"values":[]},"mark":"point"},
 {"width": 808, "height": 5, "data": {"values": [{}]},
  "mark": {"type": "rule", "color": "#555", "strokeWidth": 1.2},
  "encoding": {"y": {"value": "height"}},
  "title": {"text": "图表2: 美国钢铁和日本新日铁实施兼并重组时期股价超额收益显著", "anchor": "start", "fontSize": 14, "fontStyle": "italic", "fontWeight": "normal", "offset": 3, "dx": 6, "color": "#333"}},
 {"width":808,"height":29,"data":{"values":[]},"mark":"point"},
 {"hconcat": [
   {"width":35,"height":1,"data":{"values":[]},"mark":"point"},
   {"width": 313, "height": 174,
    "layer": [
     {"data": {"name": "usRed"}, "mark": {"type": "line", "strokeWidth": 2},
      "encoding": {
       "x": {"field": "t", "type": "quantitative", "scale": {"domain": [1991.37, 2016.51], "nice": false, "zero": false}, "axis": {"values": [1991.37, 1996.37, 2001.37, 2006.37, 2011.37, 2016.37], "tickCount": 100, "labelExpr": "format(floor(datum.value) % 100, '02d') + '/05'", "labelOverlap": false, "title": null, "labelFontSize": 11, "tickSize": 4, "labelFlush": false}},
       "y": {"field": "r", "type": "quantitative", "scale": {"domain": [-3.5, 1.5], "nice": false, "zero": false}, "axis": {"orient": "right", "values": [-3.5,-3,-2.5,-2,-1.5,-1,-0.5,0,0.5,1,1.5], "tickCount": 100, "format": ".0%", "title": null, "labelFontSize": 11, "tickSize": 4}},
       "stroke": {"datum": "超额收益", "type": "nominal", "scale": {"domain": ["美国钢铁", "超额收益"], "range": ["#3a1212", "#c8473f"]}, "legend": {"title": null, "orient": "none", "legendX": 96, "legendY": -28, "direction": "horizontal", "symbolType": "stroke", "symbolSize": 300, "symbolStrokeWidth": 2.2, "columnPadding": 18}}
      }},
     {"data": {"name": "usDark"}, "mark": {"type": "line", "strokeWidth": 1.4},
      "encoding": {
       "x": {"field": "t", "type": "quantitative", "scale": {"domain": [1991.37, 2016.51], "nice": false, "zero": false}},
       "y": {"field": "v", "type": "quantitative", "scale": {"domain": [0, 250], "nice": false}, "axis": {"orient": "left", "values": [0,50,100,150,200,250], "tickCount": 100, "format": "d", "title": null, "labelFontSize": 11, "tickSize": 4}},
       "stroke": {"datum": "美国钢铁", "type": "nominal"}
      }},
     {"data": {"values": [{}]}, "mark": {"type": "rule", "color": "#b5322c", "strokeWidth": 1.5, "strokeDash": [6, 4]},
      "encoding": {"y": {"datum": 0, "type": "quantitative", "scale": {"domain": [-3.5, 1.5], "nice": false, "zero": false}, "axis": null}}},
     {"data": {"values": [{"start": 2003.09, "end": 2008.43}]},
      "mark": {"type": "rect", "filled": false, "stroke": "#a39e62", "strokeWidth": 1.5, "strokeDash": [4, 3]},
      "encoding": {
       "x": {"field": "start", "type": "quantitative", "scale": {"domain": [1991.37, 2016.51], "nice": false, "zero": false}},
       "x2": {"field": "end"},
       "y": {"datum": 262.9, "type": "quantitative", "scale": {"domain": [0, 250], "nice": false}, "axis": null},
       "y2": {"datum": 4.7}
      }}
    ],
    "resolve": {"scale": {"y": "independent"}}}
  ], "spacing": 0, "bounds": "flush", "resolve": {"scale": {"stroke": "independent"}}},
 {"width":808,"height":18,"data":{"values":[]},"mark":"point"},
 {"hconcat": [
   {"width":431,"height":1,"data":{"values":[]},"mark":"point"},
   {"width": 335, "height": 159,
    "layer": [
     {"data": {"name": "jpRed"}, "mark": {"type": "line", "strokeWidth": 2},
      "encoding": {
       "x": {"field": "t", "type": "quantitative", "scale": {"domain": [1974.67, 2016.9], "nice": false, "zero": false}, "axis": {"values": [1974.67, 1979.67, 1984.67, 1989.67, 1994.67, 1999.67, 2004.67, 2009.67, 2014.67], "tickCount": 100, "labelExpr": "format(floor(datum.value) % 100, '02d') + '/09'", "labelOverlap": false, "title": null, "labelFontSize": 11, "tickSize": 4, "labelFlush": false}},
       "y": {"field": "r", "type": "quantitative", "scale": {"domain": [-2, 0.5], "nice": false, "zero": false}, "axis": {"orient": "right", "values": [-2,-1.5,-1,-0.5,0,0.5], "tickCount": 100, "format": ".0%", "title": null, "labelFontSize": 11, "tickSize": 4}},
       "stroke": {"datum": "超额收益", "type": "nominal", "scale": {"domain": ["新日铁住金", "超额收益"], "range": ["#3a1212", "#c8473f"]}, "legend": {"title": null, "orient": "none", "legendX": 105, "legendY": -26, "direction": "horizontal", "symbolType": "stroke", "symbolSize": 300, "symbolStrokeWidth": 2.2, "columnPadding": 18}}
      }},
     {"data": {"name": "jpDark"}, "mark": {"type": "line", "strokeWidth": 1.4},
      "encoding": {
       "x": {"field": "t", "type": "quantitative", "scale": {"domain": [1974.67, 2016.9], "nice": false, "zero": false}},
       "y": {"field": "v", "type": "quantitative", "scale": {"domain": [0, 12000], "nice": false}, "axis": {"orient": "left", "values": [0,2000,4000,6000,8000,10000,12000], "tickCount": 100, "format": "d", "title": null, "labelFontSize": 11, "tickSize": 4}},
       "stroke": {"datum": "新日铁住金", "type": "nominal"}
      }},
     {"data": {"values": [{}]}, "mark": {"type": "rule", "color": "#b5322c", "strokeWidth": 1.5, "strokeDash": [6, 4]},
      "encoding": {"y": {"datum": 0, "type": "quantitative", "scale": {"domain": [-2, 0.5], "nice": false, "zero": false}, "axis": null}}},
     {"data": {"values": [{"start": 2002.70, "end": 2007.95}, {"start": 2012.61, "end": 2016.9}]},
      "mark": {"type": "rect", "filled": false, "stroke": "#a39e62", "strokeWidth": 1.5, "strokeDash": [4, 3]},
      "encoding": {
       "x": {"field": "start", "type": "quantitative", "scale": {"domain": [1974.67, 2016.9], "nice": false, "zero": false}},
       "x2": {"field": "end"},
       "y": {"datum": 12709, "type": "quantitative", "scale": {"domain": [0, 12000], "nice": false}, "axis": null},
       "y2": {"datum": 332}
      }}
    ],
    "resolve": {"scale": {"y": "independent"}}}
  ], "spacing": 0, "bounds": "flush", "resolve": {"scale": {"stroke": "independent"}}},
 {"width":808,"height":182,"data":{"values":[]},"mark":"point"},
 {"width": 808, "height": 4, "data": {"values": [{}]},
  "mark": {"type": "rule", "color": "#555", "strokeWidth": 1.2},
  "encoding": {"y": {"value": 0}},
  "title": {"text": "资料来源：彭博资讯，中金公司研究部", "orient": "bottom", "anchor": "start", "fontSize": 10, "fontStyle": "italic", "fontWeight": "normal", "color": "#555", "offset": 2, "dx": 6}},
 {"width":808,"height":174,"data":{"values":[]},"mark":"point"},
 {"hconcat": [
   {"width":128,"height":1,"data":{"values":[]},"mark":"point"},
   {"width": 680, "height": 4, "data": {"values": []}, "mark": "point",
    "title": {"text": "我国去产能路径分析：先去产能，再兼并重组", "subtitle": ["根据前文对于钢铁去产能阶段的划分（初期、中期、后期），我们认为中国钢铁行业已经步", "入去产能的中期（实施）阶段，这是因为我国钢铁需求见顶时产能过剩的程度更为严峻，", "盈利水平更低，去产能从初期步入到中期的时间较短。事实上，随着 2015 年出现大幅亏损", "和企业大面积停产，钢铁行业开启了深度去产能。"], "anchor": "start", "font": "Noto Sans CJK SC", "fontSize": 15, "fontWeight": "bold", "color": "#111", "subtitleFont": "Noto Sans CJK SC", "subtitleFontSize": 16.5, "subtitleColor": "#222", "subtitleLineHeight": 19.5, "subtitlePadding": 15, "offset": 0}}
  ], "spacing": 0, "bounds": "flush"},
 {"width":808,"height":114,"data":{"values":[]},"mark":"point"}
]
}
